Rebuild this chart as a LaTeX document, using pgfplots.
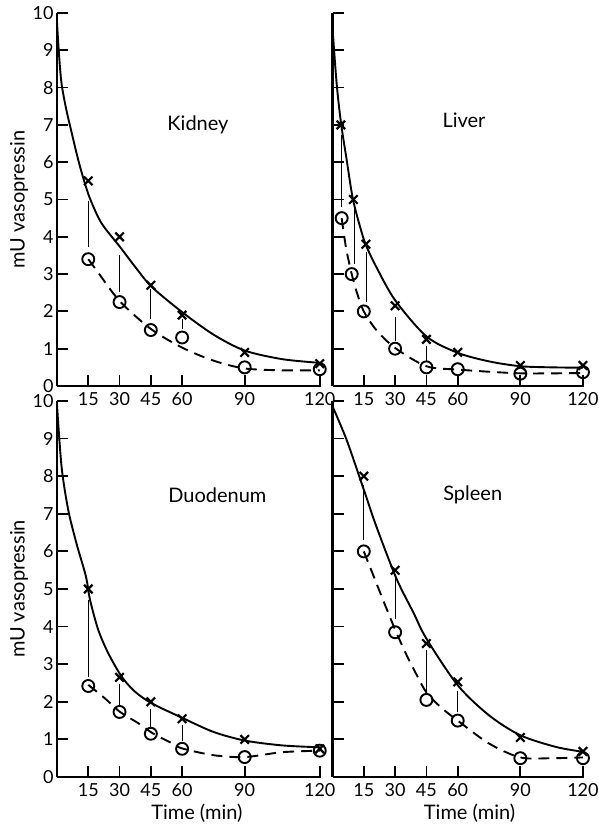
\documentclass[border=0pt]{standalone}
\usepackage{fontspec}
\setmainfont{Lato}
\usepackage{pgfplots}
\pgfplotsset{compat=1.18}

\tikzset{plabel/.style={font=\fontsize{20}{20}\selectfont}}
\pgfplotsset{
  panel/.style={
    scale only axis, clip=false,
    axis x line=bottom, axis y line=left,
    axis line style={-, line width=2.4pt},
    ymin=0, ymax=10, ytick={0,1,...,10},
    xmin=0,
    xtick={15,30,45,60,90,120}, xticklabels={15,30,45,60,90,120},
    tick align=inside, major tick length=11pt,
    tick style={black, line width=1.8pt},
    tick label style={font=\fontsize{18}{18}\selectfont},
    xticklabel style={yshift=-3pt},
    /pgf/number format/assume math mode=true,
    unbounded coords=jump,
  },
  leftpanel/.style={panel, width=264pt, xmax=120.5,
    x coord trafo/.code={\pgfmathparse{##1+0.2*max(##1-90,0)}},
    x coord inv trafo/.code={\pgfmathparse{##1-(0.2/1.2)*max(##1-90,0)}},
    every axis y label/.style={at={(axis description cs:-0.144,0.5)}, rotate=90, anchor=center, font=\fontsize{20}{20}\selectfont},
    ylabel={mU vasopressin},
  },
  rightpanel/.style={panel, width=251.5pt, xmax=120.5, yticklabels={}},
  fit/.style={black, line width=1.9pt, smooth, no marks},
  dfit/.style={black, line width=1.9pt, smooth, no marks, dash pattern=on 11pt off 7pt},
  conn/.style={black, line width=0.7pt, no marks},
  xm/.style={only marks, mark=x, mark size=6pt, mark options={black, line width=2.2pt}},
  om/.style={only marks, mark=o, mark size=6pt, mark options={black, fill=white, line width=1.9pt}},
}

\begin{document}
\begin{tikzpicture}
\path[use as bounding box] (0,0) rectangle (599pt,825pt);

% ---------------- Kidney ----------------
\begin{axis}[leftpanel, at={(57pt,439pt)}, anchor=south west, height=373pt]
\addplot[conn] coordinates {(15,4.97) (15,3.72) (15,nan) (30,3.5) (30,2.52) (30,nan) (45,2.6) (45,1.8) (45,nan) (60,1.8) (60,1.54)};
\addplot[fit] coordinates {(0,9.75) (1,8.86) (2.2,8.1) (4.5,7.4) (7,6.8) (10,6.1) (13,5.5) (16,5.0) (21.4,4.36) (30.2,3.73) (37.4,3.2) (45.4,2.66) (59.8,1.99) (75,1.38) (90,0.95) (105,0.72) (120,0.62)};
\addplot[dfit] coordinates {(15,3.4) (19,3.1) (30,2.28) (45,1.53) (60,1.03) (75,0.68) (90,0.47) (105,0.42) (120,0.42)};
\addplot[xm] coordinates {(15,5.5) (30,4.0) (45,2.7) (60,1.9) (90,0.9) (120,0.6)};
\addplot[om] coordinates {(15,3.4) (30,2.25) (45,1.5) (60,1.3) (90,0.5) (120,0.45)};
\node[plabel] at (axis cs:67.6,7.0) {Kidney};
\end{axis}

% ---------------- Liver ----------------
\begin{axis}[rightpanel, at={(332.5pt,439pt)}, anchor=south west, height=373pt]
\addplot[conn] coordinates {(4.4,6.74) (4.4,4.79) (4.4,nan) (10.4,4.74) (10.4,3.28) (10.4,nan) (16,3.6) (16,2.26) (16,nan) (30,1.86) (30,1.2) (30,nan) (45,1.06) (45,0.66)};
\addplot[fit] coordinates {(0,9.6) (2,8.1) (4.1,7.04) (6.8,6.06) (9.7,5.03) (13.2,4.27) (16,3.78) (21,3.19) (30,2.3) (45,1.33) (60,0.89) (75,0.66) (90,0.53) (105,0.5) (120,0.49)};
\addplot[dfit] coordinates {(4.4,4.5) (6.5,3.7) (9.2,3.0) (12,2.45) (15,2.0) (21,1.5) (30,1.02) (45,0.53) (60,0.44) (90,0.34) (120,0.35)};
\addplot[xm] coordinates {(4,7.0) (10,5.0) (16,3.8) (30,2.15) (45,1.25) (60,0.9) (90,0.55) (120,0.55)};
\addplot[om] coordinates {(4.4,4.5) (9.2,3.0) (15,2.0) (30,1.0) (45,0.5) (60,0.45) (90,0.33) (120,0.37)};
\node[plabel] at (axis cs:63,7.13) {Liver};
\end{axis}

% ---------------- Duodenum ----------------
\begin{axis}[leftpanel, at={(57pt,48pt)}, anchor=south west, height=376pt,
  xlabel={Time (min)}, every axis x label/.style={at={(axis description cs:0.53,0)}, anchor=center, yshift=-36pt, font=\fontsize{20}{20}\selectfont}]
\addplot[conn] coordinates {(15,4.7) (15,2.66) (15,nan) (30,2.48) (30,1.9) (30,nan) (45,1.82) (45,1.33) (45,nan) (60,1.37) (60,0.97)};
\addplot[fit] coordinates {(0,9.9) (2.2,8.25) (5.4,7.1) (9.4,6.2) (13.9,5.33) (15.8,4.72) (19.8,3.91) (24.6,3.29) (31,2.67) (37.4,2.27) (45.4,1.96) (59.8,1.58) (75,1.2) (90,0.97) (105,0.84) (120,0.79)};
\addplot[dfit] coordinates {(15,2.45) (23,2.09) (30,1.74) (39,1.43) (46,1.16) (55,0.9) (60,0.76) (75,0.58) (90,0.53) (105,0.66) (120,0.7)};
\addplot[xm] coordinates {(15,5.0) (30,2.65) (45,2.0) (60,1.55) (90,1.0) (120,0.75)};
\addplot[om] coordinates {(15,2.42) (30,1.73) (45,1.15) (60,0.75) (90,0.53) (120,0.7)};
\node[plabel] at (axis cs:76.9,7.5) {Duodenum};
\end{axis}

% ---------------- Spleen ----------------
\begin{axis}[rightpanel, at={(332.5pt,48pt)}, anchor=south west, height=376pt,
  xlabel={Time (min)}, every axis x label/.style={at={(axis description cs:0.545,0)}, anchor=center, yshift=-36pt, font=\fontsize{20}{20}\selectfont}]
\addplot[conn] coordinates {(15,7.77) (15,6.3) (15,nan) (30,5.33) (30,4.2) (30,nan) (45,3.37) (45,2.3) (45,nan) (60,2.3) (60,1.73)};
\addplot[fit] coordinates {(0,9.86) (6.8,8.96) (14.7,7.69) (21.1,6.65) (30.7,5.27) (38.7,4.38) (45,3.68) (60,2.44) (75,1.64) (90,1.11) (107,0.8) (120,0.67)};
\addplot[dfit] coordinates {(15,6.0) (20,5.3) (25,4.6) (30,3.92) (35,3.3) (40,2.75) (45,2.25) (52,1.85) (60,1.5) (75,0.89) (90,0.52) (105,0.5) (120,0.52)};
\addplot[xm] coordinates {(15,8.0) (30,5.5) (45,3.55) (60,2.53) (90,1.05) (120,0.68)};
\addplot[om] coordinates {(15,6.0) (30,3.85) (45,2.05) (60,1.5) (90,0.5) (120,0.5)};
\node[plabel] at (axis cs:67.2,7.5) {Spleen};
\end{axis}
\end{tikzpicture}
\end{document}
